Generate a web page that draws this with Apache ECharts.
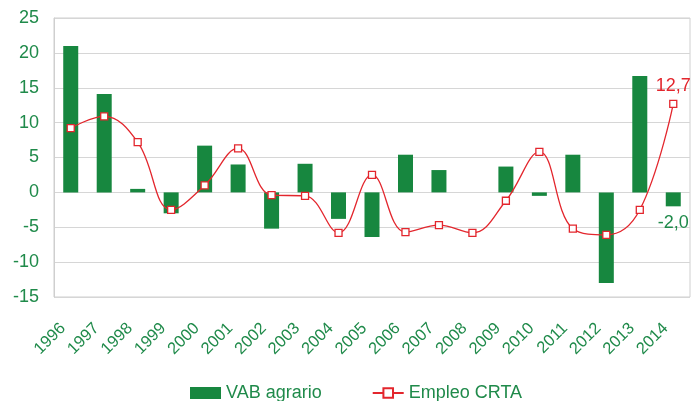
<!DOCTYPE html>
<html>
<head>
<meta charset="utf-8">
<script src="https://cdn.jsdelivr.net/npm/echarts@6/dist/echarts.min.js"></script>
<style>
  html, body { margin: 0; padding: 0; background: #fff; }
  #chart { width: 696px; height: 401px; }
</style>
</head>
<body>
<div id="chart"></div>
<script>
// datos
var years = ['1996', '1997', '1998', '1999', '2000', '2001', '2002', '2003', '2004', '2005',
    '2006', '2007', '2008', '2009', '2010', '2011', '2012', '2013', '2014'];
var vabAgrario = [21.0, 14.1, 0.5, -3.0, 6.7, 4.0, -5.2, 4.1, -3.8, -6.4,
    5.4, 3.2, 0, 3.7, -0.5, 5.4, -13.0, 16.7, -2.0];
var empleoCRTA = [9.2, 10.9, 7.2, -2.5, 1.0, 6.3, -0.4, -0.5, -5.8, 2.5,
    -5.7, -4.7, -5.8, -1.2, 5.8, -5.2, -6.1, -2.5, 12.7];

var verde = '#17873f';
var textoVerde = '#1f8a4a';
var rojo = '#e3262d';

function coma(v) {
    return v.toFixed(1).replace('.', ',');
}

var last = years.length - 1;
var barData = vabAgrario.map(function (v, i) {
    if (i === last) {
        return {
            value: v,
            label: { show: true, position: 'bottom', distance: 8, color: textoVerde, fontSize: 18,
                formatter: function (p) { return coma(p.value); } }
        };
    }
    return v;
});
var lineData = empleoCRTA.map(function (v, i) {
    if (i === last) {
        return {
            value: v,
            label: { show: true, position: 'top', distance: 5, color: rojo, fontSize: 18,
                formatter: function (p) { return coma(p.value); } }
        };
    }
    return v;
});

var chart = echarts.init(document.getElementById('chart'));
chart.setOption({
    animation: false,
    textStyle: { fontFamily: 'Liberation Sans, Arial, sans-serif' },
    grid: {
        left: 54, right: 6, top: 18, bottom: 104,
        show: true, borderColor: '#cfcfcf', borderWidth: 1
    },
    legend: {
        top: 379,
        left: 185,
        itemWidth: 31,
        itemHeight: 12,
        itemGap: 50,
        textStyle: { color: textoVerde, fontSize: 18 },
        data: [{ name: 'VAB agrario', icon: 'rect' }, { name: 'Empleo CRTA' }]
    },
    xAxis: {
        type: 'category',
        data: years,
        axisLine: { show: false },
        axisTick: { show: false },
        axisLabel: {
            rotate: 45,
            margin: 21,
            padding: [0, 11, 8, 0],
            color: textoVerde,
            fontSize: 16.5,
            interval: 0
        }
    },
    yAxis: {
        type: 'value',
        min: -15,
        max: 25,
        interval: 5,
        axisLine: { show: true, lineStyle: { color: '#cfcfcf' } },
        axisTick: { show: false },
        axisLabel: { color: textoVerde, fontSize: 18, margin: 15 },
        splitLine: { lineStyle: { color: '#d6d6d6', width: 1 } }
    },
    series: [
        {
            name: 'VAB agrario',
            type: 'bar',
            barWidth: 15,
            itemStyle: { color: verde },
            data: barData
        },
        {
            name: 'Empleo CRTA',
            type: 'line',
            smooth: 0.4,
            symbol: 'rect',
            symbolSize: 7,
            lineStyle: { color: rojo, width: 1.3 },
            itemStyle: { color: '#fff', borderColor: rojo, borderWidth: 1.3 },
            data: lineData
        }
    ]
});
</script>
</body>
</html>
